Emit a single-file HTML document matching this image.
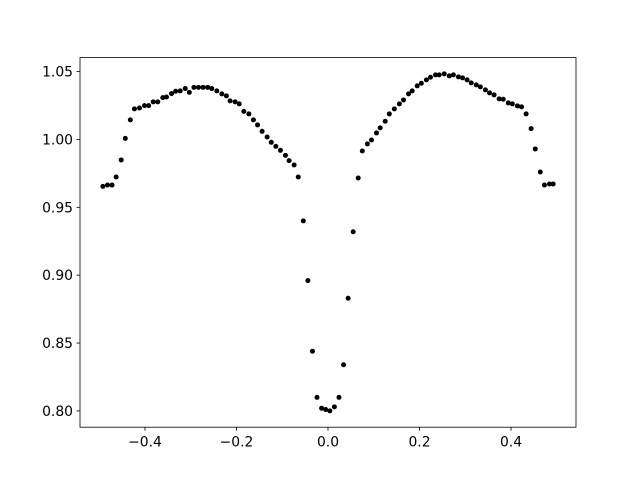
<!DOCTYPE html>
<html><head><meta charset="utf-8"><style>
body{margin:0;background:#fff;}
svg text{font-family:"DejaVu Sans","Liberation Sans",sans-serif;font-size:13.9px;fill:#000;}
</style></head><body>
<svg id="chart" width="640" height="480" xmlns="http://www.w3.org/2000/svg">
<rect width="640" height="480" fill="#fff"/>
<g id="pts"></g>
<rect x="80" y="57.6" width="496" height="369.6" fill="none" stroke="#000" stroke-width="0.8"/>
<g id="xt"></g>
<g id="yt"></g>
</svg>
<script>
const phase=[-0.492,-0.482,-0.472,-0.463,-0.452,-0.443,-0.432,-0.423,-0.412,-0.401,-0.392,-0.382,-0.372,-0.361,-0.353,-0.342,-0.333,-0.323,-0.312,-0.303,-0.293,-0.283,-0.273,-0.263,-0.254,-0.243,-0.232,-0.222,-0.214,-0.203,-0.194,-0.184,-0.173,-0.163,-0.154,-0.144,-0.133,-0.124,-0.114,-0.104,-0.093,-0.085,-0.074,-0.065,
-0.054,-0.044,-0.034,-0.024,-0.014,-0.005,0.004,0.014,0.024,0.034,0.044,0.055,
0.066,0.075,0.086,0.095,0.106,0.114,0.125,0.134,0.145,0.156,0.165,0.176,0.184,0.195,0.204,0.215,0.224,0.235,0.243,0.254,0.265,0.274,0.285,0.294,0.304,0.313,0.324,0.333,0.344,0.353,0.363,0.374,0.383,0.394,0.403,0.414,0.423,0.433,0.444,0.453,0.464,0.473,0.484,0.492];
const flux=[0.9654,0.9664,0.9664,0.9723,0.9849,1.0008,1.0144,1.0225,1.0232,1.0249,1.0249,1.0277,1.0277,1.0308,1.0313,1.0338,1.0355,1.0358,1.0375,1.0347,1.0384,1.0384,1.0384,1.0384,1.0375,1.0358,1.0336,1.0321,1.0284,1.0277,1.0262,1.0207,1.0188,1.0144,1.0107,1.0060,1.0018,0.9979,0.9949,0.9920,0.9883,0.9844,0.9812,0.9723,
0.940,0.896,0.844,0.810,0.802,0.801,0.800,0.803,0.810,0.834,0.883,0.932,
0.9716,0.9915,0.9967,0.9996,1.0048,1.0085,1.0134,1.0188,1.0225,1.0262,1.0291,1.0336,1.0358,1.0395,1.0414,1.0439,1.0458,1.0476,1.0476,1.0483,1.0468,1.0476,1.0461,1.0454,1.0439,1.0417,1.0402,1.0387,1.0365,1.0343,1.0328,1.0299,1.0296,1.0269,1.0262,1.0247,1.0240,1.0188,1.0080,0.9930,0.9760,0.9664,0.9672,0.9672];
const xTicks=[-0.4,-0.2,0.0,0.2,0.4];
const xLabels=["\u22120.4","\u22120.2","0.0","0.2","0.4"];
const yTicks=[0.80,0.85,0.90,0.95,1.00,1.05];
const yLabels=["0.80","0.85","0.90","0.95","1.00","1.05"];
const X0=80,X1=576,Y0=57.6,Y1=427.2,xmin=-0.542,xmax=0.542,ymin=0.788,ymax=1.0603;
const sx=v=>X0+(v-xmin)/(xmax-xmin)*(X1-X0);
const sy=v=>Y1-(v-ymin)/(ymax-ymin)*(Y1-Y0);
const NS="http://www.w3.org/2000/svg";
const pts=document.getElementById('pts');
phase.forEach((p,i)=>{
 const c=document.createElementNS(NS,'circle');
 c.setAttribute('cx',sx(p));c.setAttribute('cy',sy(flux[i]));c.setAttribute('r',2.5);c.setAttribute('fill','#000');
 
 
 pts.appendChild(c);
});
const xt=document.getElementById('xt');
xTicks.forEach((t,i)=>{
 const x=sx(t);
 const l=document.createElementNS(NS,'line');
 l.setAttribute('x1',x);l.setAttribute('x2',x);l.setAttribute('y1',Y1);l.setAttribute('y2',Y1+3.5);l.setAttribute('stroke','#000');l.setAttribute('stroke-width',0.8);
 
 
 xt.appendChild(l);
 const tx=document.createElementNS(NS,'text');
 tx.setAttribute('x',x);tx.setAttribute('y',Y1+19.5);tx.setAttribute('text-anchor','middle');tx.textContent=xLabels[i];
 
 
 xt.appendChild(tx);
});
const yt=document.getElementById('yt');
yTicks.forEach((t,i)=>{
 const y=sy(t);
 const l=document.createElementNS(NS,'line');
 l.setAttribute('x1',X0-3.5);l.setAttribute('x2',X0);l.setAttribute('y1',y);l.setAttribute('y2',y);l.setAttribute('stroke','#000');l.setAttribute('stroke-width',0.8);
 
 
 yt.appendChild(l);
 const tx=document.createElementNS(NS,'text');
 tx.setAttribute('x',X0-7);tx.setAttribute('y',y+5);tx.setAttribute('text-anchor','end');tx.textContent=yLabels[i];
 
 
 yt.appendChild(tx);
});
</script>
</body></html>
